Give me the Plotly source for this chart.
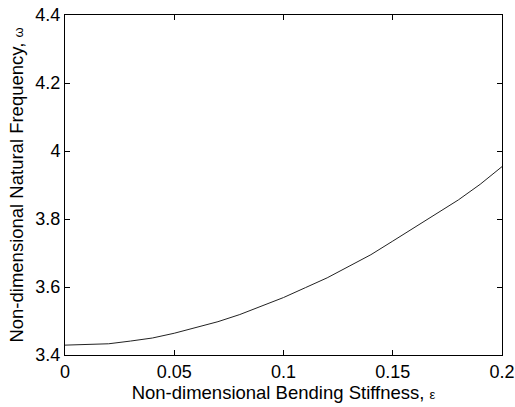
import plotly.graph_objects as go

# Non-dimensional bending stiffness (epsilon) and natural frequency (omega)
stiffness = [0.00, 0.01, 0.02, 0.03, 0.04, 0.05, 0.06, 0.07, 0.08, 0.09, 0.10,
             0.11, 0.12, 0.13, 0.14, 0.15, 0.16, 0.17, 0.18, 0.19, 0.20]
frequency = [3.429, 3.431, 3.433, 3.441, 3.450, 3.464, 3.480, 3.498, 3.519, 3.543, 3.569,
             3.598, 3.627, 3.661, 3.695, 3.735, 3.775, 3.814, 3.856, 3.902, 3.954]

x_ticks = [0, 0.05, 0.1, 0.15, 0.2]
x_tick_labels = ["0", "0.05", "0.1", "0.15", "0.2"]
y_ticks = [3.4, 3.6, 3.8, 4.0, 4.2, 4.4]
y_tick_labels = ["3.4", "3.6", "3.8", "4", "4.2", "4.4"]

font_family = "Liberation Sans, Arial, sans-serif"

fig = go.Figure()
fig.add_trace(go.Scatter(
    x=stiffness, y=frequency, mode="lines",
    line=dict(color="#222222", width=1),
    showlegend=False,
))

axis_common = dict(
    showline=True, linecolor="black", linewidth=1, mirror="ticks",
    ticks="inside", ticklen=5, tickcolor="black", tickwidth=1,
    showgrid=False, zeroline=False, automargin=False,
    tickfont=dict(family=font_family, size=18, color="black"),
)

fig.update_xaxes(
    range=[0, 0.2], tickmode="array", tickvals=x_ticks, ticktext=x_tick_labels,
    title=dict(text="Non-dimensional Bending Stiffness, <span style='font-size:13px'>ε</span>",
               font=dict(family=font_family, size=18.5, color="black"), standoff=4),
    **axis_common,
)
fig.update_yaxes(
    range=[3.4, 4.4], tickmode="array", tickvals=y_ticks, ticktext=y_tick_labels,
    title=dict(text="Non-dimensional Natural Frequency, <span style='font-size:13px'>ω</span>",
               font=dict(family=font_family, size=18.5, color="black"), standoff=6),
    **axis_common,
)

fig.update_layout(
    width=515, height=407,
    margin=dict(l=65, r=13, t=15, b=52, autoexpand=False),
    paper_bgcolor="white", plot_bgcolor="white",
)

fig.write_html("out.html")
